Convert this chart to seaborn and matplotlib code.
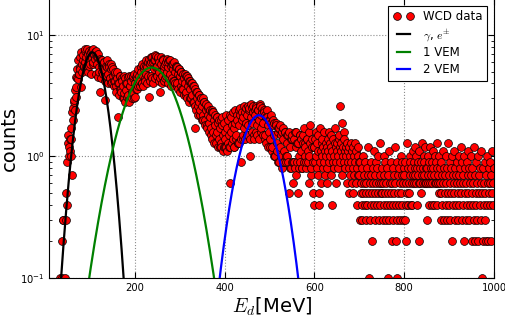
import numpy as np
import pandas as pd
import matplotlib
matplotlib.use('Agg')
import matplotlib.pyplot as plt
from matplotlib.lines import Line2D
import seaborn as sns

# WCD deposited-energy spectrum, counts in units of 0.1
# even 1 MeV bins from 30 to 598 MeV
head_even_tenths = [
    0, 0, 1, 0, 2, 3, 0, 1, 5, 4,            # 30-48
    9, 15, 10, 11, 14, 7, 20, 28, 24, 31,     # 50-68
    37, 52, 43, 48, 55, 37, 58, 62, 54, 74,   # 70-88
    60, 66, 56, 70, 63, 58, 72, 65, 76, 60,   # 90-108
    70, 64, 74, 58, 66, 54, 34, 62, 50, 56,   # 110-128
    52, 60, 29, 46, 55, 48, 58, 44, 52, 40,   # 130-148
    54, 46, 42, 50, 38, 44, 21, 40, 36, 46,   # 150-168
    34, 42, 38, 30, 44, 35, 40, 32, 46, 28,   # 170-188
    38, 42, 34, 46, 30, 40, 36, 44, 48, 38,   # 190-208
    46, 42, 50, 40, 46, 52, 44, 56, 48, 54,   # 210-228
    46, 31, 58, 66, 44, 60, 52, 68, 62, 54,   # 230-248
    56, 66, 50, 34, 58, 46, 64, 52, 56, 44,   # 250-268
    60, 50, 54, 62, 48, 56, 44, 52, 58, 42,   # 270-288
    50, 54, 40, 48, 52, 46, 38, 50, 42, 36,   # 290-308
    44, 40, 34, 46, 38, 42, 30, 36, 40, 32,   # 310-328
    38, 28, 17, 34, 30, 26, 32, 28, 24, 30,   # 330-348
    26, 22, 28, 20, 24, 18, 22, 26, 19, 21,   # 350-368
    17, 23, 16, 20, 18, 15, 21, 16, 19, 14,   # 370-388
    17, 13, 18, 15, 12, 16, 14, 12, 17, 13,   # 390-408
    15, 6, 16, 18, 14, 12, 17, 19, 15, 20,    # 410-428
    13, 18, 22, 9, 20, 14, 21, 17, 23, 19,    # 430-448
    22, 18, 24, 10, 21, 25, 19, 23, 14, 22,   # 450-468
    26, 18, 24, 20, 27, 22, 17, 25, 19, 23,   # 470-488
    15, 21, 24, 18, 16, 20, 14, 22, 12, 18,   # 490-508
    15, 10, 19, 13, 16, 9, 17, 12, 15, 8,     # 510-528
    14, 11, 16, 9, 13, 10, 15, 5, 12, 8,      # 530-548
    14, 6, 9, 16, 12, 7, 13, 5, 10, 15,       # 550-568
    11, 8, 13, 17, 10, 12, 9, 14, 11, 6,      # 570-588
    18, 7, 12, 5, 4,                          # 590-598
]
# odd 1 MeV bins from 31 to 599 MeV
head_odd_tenths = [
    0, 0, 0, 1, 3, 0, 0, 0, 3, 0,             # 31-49
    13, 12, 14, 10, 17, 23, 25, 29, 35, 45,   # 51-69
    44, 62, 48, 66, 52, 72, 50, 68, 56, 76,   # 71-89
    54, 77, 50, 74, 56, 70, 48, 75, 58, 68,   # 91-109
    72, 48, 66, 45, 70, 50, 64, 44, 62, 48,   # 111-129
    60, 42, 56, 46, 62, 40, 54, 44, 58, 41,   # 131-149
    52, 38, 48, 42, 34, 50, 40, 32, 46, 36,   # 151-169
    44, 30, 46, 33, 28, 40, 31, 45, 29, 38,   # 171-189
    46, 30, 44, 33, 48, 31, 45, 36, 52, 40,   # 191-209
    38, 54, 40, 58, 38, 56, 42, 62, 40, 60,   # 211-229
    64, 42, 60, 46, 66, 40, 62, 44, 67, 46,   # 231-249
    64, 42, 60, 44, 66, 40, 62, 42, 58, 46,   # 251-269
    64, 40, 60, 44, 62, 38, 58, 42, 60, 40,   # 271-289
    56, 38, 54, 36, 52, 34, 50, 36, 48, 32,   # 291-309
    48, 32, 46, 30, 44, 28, 42, 30, 40, 28,   # 311-329
    38, 26, 36, 24, 34, 22, 32, 22, 30, 20,   # 331-349
    30, 20, 28, 18, 27, 17, 25, 16, 24, 15,   # 351-369
    24, 14, 23, 13, 22, 13, 21, 12, 20, 12,   # 371-389
    20, 12, 21, 11, 19, 12, 22, 11, 20, 12,   # 391-409
    22, 12, 21, 13, 23, 12, 24, 14, 22, 13,   # 411-429
    24, 13, 25, 14, 23, 15, 26, 14, 25, 15,   # 431-449
    26, 15, 25, 14, 27, 16, 26, 15, 24, 16,   # 451-469
    25, 15, 24, 14, 26, 16, 23, 15, 24, 14,   # 471-489
    22, 13, 21, 12, 20, 12, 19, 11, 20, 10,   # 491-509
    19, 10, 18, 11, 17, 9, 18, 10, 16, 9,     # 511-529
    17, 9, 16, 10, 15, 9, 16, 8, 14, 9,       # 531-549
    15, 9, 14, 8, 16, 9, 13, 8, 15, 9,        # 551-569
    14, 8, 15, 9, 13, 8, 14, 9, 16, 10,       # 571-589
    13, 8, 14, 9, 12,                         # 591-599
]
# 1 MeV bins from 600 to 999 MeV
tail_tenths = [
    12, 9, 14, 10, 16, 8, 13, 11, 7, 15,
    5, 4, 9, 17, 11, 6, 13, 10, 14, 8,
    12, 16, 9, 11, 7, 13, 10, 6, 12, 8,
    14, 11, 9, 16, 10, 13, 7, 12, 15, 4,
    11, 9, 14, 10, 8, 13, 17, 9, 12, 6,
    11, 13, 8, 10, 14, 15, 12, 9, 26, 11,
    13, 7, 19, 10, 12, 16, 9, 14, 11, 8,
    12, 10, 6, 13, 9, 11, 5, 12, 8, 10,
    7, 13, 9, 6, 11, 8, 12, 5, 10, 7,
    9, 13, 6, 11, 8, 4, 10, 7, 12, 9,
    7, 3, 9, 5, 6, 4, 8, 3, 10, 5,
    6, 7, 4, 9, 5, 3, 6, 8, 4, 12,
    7, 1, 5, 6, 3, 9, 4, 7, 2, 5,
    8, 6, 4, 11, 3, 7, 5, 6, 9, 4,
    8, 5, 10, 6, 3, 7, 4, 13, 5, 6,
    5, 8, 3, 6, 4, 10, 7, 5, 9, 3,
    6, 4, 8, 1, 5, 7, 3, 11, 6, 4,
    9, 5, 2, 6, 3, 8, 4, 7, 5, 12,
    6, 2, 4, 9, 3, 1, 7, 5, 8, 4,
    6, 3, 10, 5, 7, 4, 9, 6, 3, 8,
    7, 3, 9, 4, 2, 6, 13, 5, 8, 4,
    6, 5, 10, 7, 9, 4, 8, 6, 4, 11,
    7, 9, 6, 8, 12, 7, 10, 6, 4, 8,
    9, 7, 6, 2, 11, 8, 6, 5, 9, 7,
    13, 6, 8, 10, 7, 9, 6, 12, 8, 6,
    3, 8, 6, 10, 7, 9, 4, 6, 12, 8,
    7, 4, 9, 6, 11, 8, 4, 7, 10, 6,
    9, 6, 8, 4, 13, 7, 6, 10, 5, 8,
    6, 3, 9, 5, 7, 4, 11, 6, 8, 3,
    7, 5, 10, 4, 6, 3, 8, 13, 5, 7,
    4, 9, 6, 3, 8, 5, 10, 2, 7, 4,
    6, 11, 5, 3, 8, 7, 4, 9, 6, 5,
    3, 10, 7, 4, 8, 6, 12, 5, 3, 9,
    7, 4, 6, 2, 10, 5, 8, 3, 6, 4,
    9, 7, 5, 11, 3, 8, 6, 4, 10, 7,
    5, 2, 8, 4, 6, 3, 12, 7, 2, 5,
    9, 4, 6, 3, 10, 2, 7, 5, 8, 4,
    6, 3, 11, 1, 5, 2, 8, 4, 6, 3,
    9, 5, 2, 7, 4, 10, 6, 2, 8, 5,
    6, 4, 9, 2, 7, 5, 11, 4, 6, 8,
]

# gaussian fits: amplitude, mean [MeV], sigma [MeV]
fit_labels = [r'$\gamma$, $e^{\pm}$', '1 VEM', '2 VEM']
fit_colors = ['black', 'green', 'blue']
fit_amp = [7.2, 5.4, 2.18]
fit_mean = [105.5, 237.5, 476.5]
fit_sigma = [23.8, 49.2, 35.2]

e_even = np.arange(30, 600, 2)
e_odd = np.arange(31, 600, 2)
e_tail = np.arange(600, 1000)
assert len(head_even_tenths) == len(e_even)
assert len(head_odd_tenths) == len(e_odd)
assert len(tail_tenths) == len(e_tail)

wcd = pd.DataFrame({'E': np.concatenate([e_even, e_odd, e_tail]),
                    'counts': np.array(head_even_tenths + head_odd_tenths + tail_tenths) / 10.0})
wcd = wcd[wcd['counts'] > 0].sort_values('E')

plt.rcParams['mathtext.fontset'] = 'cm'
plt.rcParams['xtick.direction'] = 'in'
plt.rcParams['ytick.direction'] = 'in'

fig = plt.figure(figsize=(5.06, 3.19), dpi=100)
ax = fig.add_axes([0.0978, 0.1295, 0.8785, 0.8752])

sns.scatterplot(data=wcd, x='E', y='counts', color='red', edgecolor='black',
                linewidth=0.5, s=32, ax=ax, zorder=2, legend=False)

for lab, col, a, m, s in zip(fit_labels, fit_colors, fit_amp, fit_mean, fit_sigma):
    xx = np.linspace(m - 4 * s, m + 4 * s, 600)
    yy = a * np.exp(-0.5 * ((xx - m) / s) ** 2)
    sns.lineplot(x=xx, y=yy, color=col, linewidth=1.6, ax=ax, zorder=3)

ax.set_yscale('log')
ax.set_xlim(10, 1000)
ax.set_ylim(0.1, 20)
ax.set_xticks([200, 400, 600, 800, 1000])
ax.tick_params(which='both', top=True, right=True, labelsize=7.2)
ax.tick_params(which='major', length=4)
ax.tick_params(which='minor', length=2)
ax.grid(True, which='major', linestyle=':', color='0.55', linewidth=0.8)
ax.set_xlabel(r'$E_d$[MeV]', fontsize=14, labelpad=2)
ax.set_ylabel('counts', fontsize=14)
ax.yaxis.set_label_coords(-0.068, 0.5)

handles = [Line2D([], [], marker='o', ls='', mfc='red', mec='black', mew=0.5, ms=5.6)]
handles += [Line2D([], [], color=c, lw=1.6) for c in fit_colors]
leg = ax.legend(handles, ['WCD data'] + fit_labels, loc='upper right', numpoints=2,
                fontsize=8.5, fancybox=False, framealpha=1, edgecolor='black',
                handlelength=1.7, borderaxespad=0.6, labelspacing=0.3)
leg.get_frame().set_linewidth(0.8)

fig.savefig('out.png', dpi=100)
